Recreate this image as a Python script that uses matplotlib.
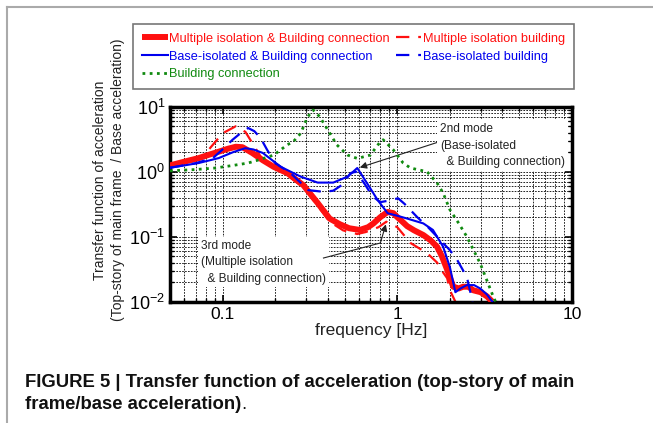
import matplotlib
matplotlib.use('Agg')
import matplotlib.pyplot as plt
from matplotlib.lines import Line2D

plt.rcParams['font.family'] = ['Liberation Sans', 'DejaVu Sans']
plt.rcParams['mathtext.fontset'] = 'custom'
plt.rcParams['mathtext.rm'] = 'Liberation Sans'
plt.rcParams['mathtext.it'] = 'Liberation Sans'

# --- data (frequency [Hz], transfer function) ---
# Multiple isolation & Building connection (thick red)
f_mibc = [0.05, 0.06, 0.073, 0.085, 0.095, 0.107, 0.119, 0.13, 0.148, 0.17,
          0.196, 0.235, 0.29, 0.35, 0.41, 0.47, 0.53, 0.61, 0.68, 0.73, 0.8,
          0.88, 0.95, 1.0, 1.07, 1.14, 1.25, 1.41, 1.55, 1.69, 1.8, 1.93,
          2.09, 2.25, 2.38, 2.55, 2.72, 3.0, 3.27, 3.5]
T_mibc = [1.25, 1.42, 1.62, 1.85, 2.03, 2.25, 2.42, 2.38, 1.94, 1.5,
          1.19, 0.95, 0.62, 0.33, 0.19, 0.155, 0.135, 0.127, 0.14, 0.16, 0.2,
          0.24, 0.23, 0.2, 0.17, 0.145, 0.125, 0.106, 0.088, 0.07, 0.05, 0.031,
          0.017, 0.016, 0.017, 0.017, 0.015, 0.014, 0.012, 0.01]

# Multiple isolation building (red dashed)
f_mib = [0.05, 0.065, 0.075, 0.083, 0.1, 0.119, 0.135, 0.15, 0.17, 0.2,
         0.235, 0.29, 0.35, 0.41, 0.49, 0.59, 0.66, 0.78, 0.865, 1.0, 1.19,
         1.48, 1.69, 1.8, 1.93, 2.0, 2.15]
T_mib = [1.2, 1.4, 1.65, 2.16, 3.9, 5.0, 4.1, 2.6, 1.5, 1.12,
         0.88, 0.57, 0.3, 0.17, 0.125, 0.11, 0.118, 0.14, 0.17, 0.14, 0.08,
         0.056, 0.04, 0.03, 0.023, 0.015, 0.01]

# Base-isolated & Building connection (blue solid)
f_bibc = [0.05, 0.073, 0.095, 0.115, 0.135, 0.15, 0.17, 0.215, 0.28, 0.35,
          0.43, 0.52, 0.59, 0.67, 0.77, 0.88, 1.0, 1.14, 1.41, 1.6, 1.83,
          2.0, 2.15, 2.3, 2.5, 2.75, 2.98, 3.25, 3.5]
T_bibc = [1.15, 1.36, 1.62, 2.0, 2.3, 2.2, 1.94, 1.19, 0.84, 0.68,
          0.68, 0.84, 1.14, 0.67, 0.37, 0.23, 0.21, 0.19, 0.16, 0.127, 0.07,
          0.034, 0.014, 0.016, 0.018, 0.018, 0.016, 0.013, 0.01]

# Base-isolated building (blue dashed)
f_bib = [0.05, 0.07, 0.088, 0.1, 0.114, 0.128, 0.14, 0.152, 0.165, 0.18,
         0.2, 0.245, 0.31, 0.38, 0.43, 0.48, 0.54, 0.58, 0.65, 0.72, 0.8,
         0.9, 1.01, 1.1, 1.3, 1.5, 1.76, 2.0, 2.2, 2.5, 2.7]
T_bib = [1.15, 1.35, 1.62, 2.2, 3.1, 4.0, 4.7, 4.2, 3.3, 2.16,
         1.36, 0.95, 0.52, 0.49, 0.51, 0.62, 0.95, 1.0, 0.65, 0.42, 0.34,
         0.36, 0.39, 0.32, 0.2, 0.14, 0.089, 0.062, 0.044, 0.024, 0.01]

# Building connection (green dotted)
f_bc = [0.05, 0.07, 0.091, 0.115, 0.14, 0.165, 0.196, 0.235, 0.254, 0.28,
        0.306, 0.33, 0.36, 0.4, 0.45, 0.52, 0.59, 0.7, 0.8, 0.83, 0.95,
        1.08, 1.19, 1.48, 1.69, 1.83, 2.0, 2.25, 2.5, 2.98, 3.5, 3.65]
T_bc = [1.03, 1.08, 1.14, 1.25, 1.36, 1.55, 1.8, 2.6, 2.9, 3.9,
        6.9, 8.9, 7.0, 4.4, 2.6, 1.8, 1.6, 1.8, 2.9, 3.1, 2.16,
        1.36, 1.14, 1.0, 0.67, 0.47, 0.26, 0.16, 0.1, 0.039, 0.013, 0.01]

RED = '#ff1010'
BLUE = '#0000ee'
GREEN = '#108a10'
INK = '#222222'

fig = plt.figure(figsize=(6.53, 4.23), dpi=100)
ax = fig.add_axes([170/653, 1-301.7/423, 402/653, 195/423])

l2, = ax.plot(f_mib, T_mib, color=RED, lw=1.6, ls=(0, (6, 4)), zorder=2,
              label='Multiple isolation building')
l1, = ax.plot(f_mibc, T_mibc, color=RED, lw=4.3, solid_capstyle='butt',
              zorder=3, label='Multiple isolation & Building connection')
l4, = ax.plot(f_bib, T_bib, color=BLUE, lw=1.6, ls=(0, (6, 4)), zorder=4,
              label='Base-isolated building')
l3, = ax.plot(f_bibc, T_bibc, color=BLUE, lw=1.5, zorder=4,
              label='Base-isolated & Building connection')
l5, = ax.plot(f_bc, T_bc, color=GREEN, lw=2, ls=(0, (1, 1.6)), zorder=4,
              label='Building connection')

ax.set_xscale('log')
ax.set_yscale('log')
ax.set_xlim(0.05, 10)
ax.set_ylim(1e-2, 1e1)
ax.grid(True, which='both', color='k', ls=(0, (2, 1.5)), lw=0.6)
ax.set_axisbelow(True)
ax.tick_params(which='both', direction='in', top=True, right=True,
               labelsize=13)
ax.tick_params(which='major', length=5, width=1.2)
ax.tick_params(which='minor', length=3, width=1)
for s in ax.spines.values():
    s.set_linewidth(2.5)
ax.set_xticks([0.1, 1, 10])
ax.set_xticklabels(['0.1', '1', '10'], fontsize=12.5)
ax.set_xlabel('frequency [Hz]', fontsize=12.5, labelpad=1, color=INK)

fig.text(109/653, 1-180/423,
         'Transfer function of acceleration\n(Top-story of main frame  / Base acceleration)',
         rotation=90, ha='center', va='center', multialignment='center',
         fontsize=10, color=INK, linespacing=1.3)

# legend above the axes
leg = fig.legend(handles=[l1, l3, l5, l2, l4], ncol=2, loc='upper left',
                 bbox_to_anchor=(133/653, 1-24/423),
                 fontsize=9.2, labelcolor='linecolor',
                 frameon=True, fancybox=False, handlelength=2.0,
                 handletextpad=0.15, columnspacing=0.45, labelspacing=0.45,
                 borderaxespad=0, borderpad=0.7)
leg.get_frame().set_edgecolor('#555555')
leg.get_frame().set_linewidth(1.2)

# annotations
box = dict(facecolor='white', edgecolor='none', pad=2)
ax.text(1.76, 5.6, '2nd mode\n(Base-isolated\n  & Building connection)',
        fontsize=8.6, ha='left', va='top', bbox=box, color=INK,
        linespacing=1.5, zorder=5)
ax.annotate('', xy=(0.61, 1.16), xytext=(1.72, 2.86),
            arrowprops=dict(arrowstyle='-|>', color=INK, lw=0.8,
                            mutation_scale=10, shrinkA=0, shrinkB=0))
ax.text(0.075, 0.09, '3rd mode\n(Multiple isolation\n  & Building connection)',
        fontsize=8.6, ha='left', va='top', bbox=box, color=INK,
        linespacing=1.5, zorder=5)
ax.plot([0.378, 0.8], [0.047, 0.08], color=INK, lw=0.8, zorder=5)
ax.annotate('', xy=(0.86, 0.155), xytext=(0.8, 0.08),
            arrowprops=dict(arrowstyle='-|>', color=INK, lw=0.8,
                            mutation_scale=10, shrinkA=0, shrinkB=0))

# caption
fig.text(25/653, 1-382/423,
         'FIGURE 5 | Transfer function of acceleration (top-story of main',
         fontweight='bold', fontsize=13.3, va='center', ha='left', color='#111111')
cap2 = fig.text(25/653, 1-404/423, 'frame/base acceleration)',
                fontweight='bold', fontsize=13.3, va='center', ha='left',
                color='#111111')
ax.annotate('.', xy=(1, 0), xycoords=cap2, fontsize=13.3, color='#111111',
            va='bottom', ha='left', annotation_clip=False)

# light grey frame around the figure panel
fig.add_artist(Line2D([7/653, 7/653], [0, 1-7/423], color='#aaaaaa', lw=1.5))
fig.add_artist(Line2D([7/653, 1], [1-7/423, 1-7/423], color='#aaaaaa', lw=1.5))

fig.savefig('out.png', dpi=100)
